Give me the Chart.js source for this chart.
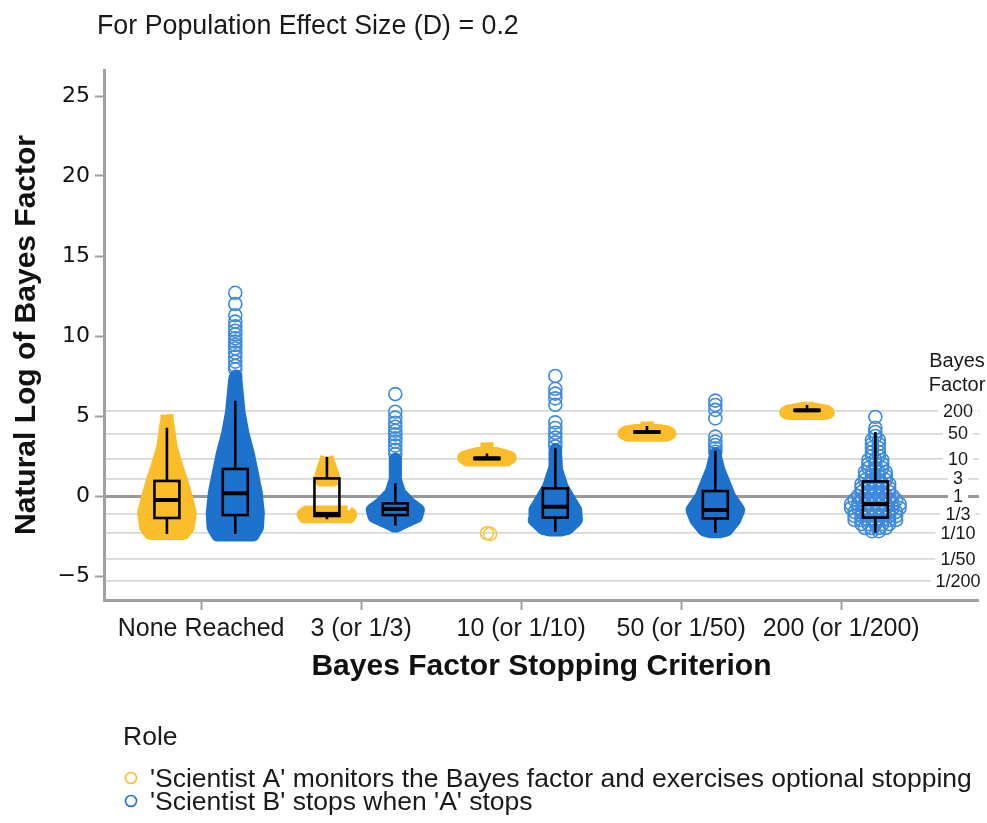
<!DOCTYPE html>
<html>
<head>
<meta charset="utf-8">
<script src="https://cdn.jsdelivr.net/npm/chart.js@4.4.1/dist/chart.umd.min.js"></script>
<style>
  html, body { margin: 0; padding: 0; background: #fff; }
  canvas { display: block; }
</style>
</head>
<body>
<canvas id="chart" width="987" height="823"></canvas>
<script>
const criteria = ["None Reached", "3 (or 1/3)", "10 (or 1/10)", "50 (or 1/50)", "200 (or 1/200)"];
const roles = ["'Scientist A' monitors the Bayes factor and exercises optional stopping", "'Scientist B' stops when 'A' stops"];
const yTicks = [25, 20, 15, 10, 5, 0, -5];
const bfLabels = ["200", "50", "10", "3", "1", "1/3", "1/10", "1/50", "1/200"];
const bfValues = [200, 50, 10, 3, 1, 1 / 3, 1 / 10, 1 / 50, 1 / 200];

// dense clouds: log BF level (top to bottom) and half width of the cloud, in category widths
// Scientist A
const aNoneY = [5.1, 4.55, 3.05, 1.8, 1.0, -0.05, -1.05, -1.95, -2.34];
const aNoneW = [0, 0.005, 0.026, 0.063, 0.09, 0.121, 0.146, 0.133, 0.105];
const aThreeY = [2.42, 2.25, 1.62, 1.25, 1.0];
const aThreeW = [0, 0.006, 0.027, 0.039, 0.04];
const aThreeLowY = [-1.0, -1.15, -1.3];
const aThreeLowW = [0.13, 0.149, 0.14];
const aTenY = [3.35, 2.8, 2.5, 2.4, 2.25];
const aTenW = [0, 0.003, 0.12, 0.146, 0.125];
const aFiftyY = [4.65, 4.2, 4.0, 3.9, 3.8];
const aFiftyW = [0, 0.005, 0.13, 0.144, 0.12];
const aTwoHY = [5.85, 5.5, 5.3, 5.22, 5.15];
const aTwoHW = [0, 0.005, 0.12, 0.133, 0.11];
// Scientist B
const bNoneY = [7.5, 7.25, 5.2, 3.9, 2.7, 1.45, 0.2, -1.05, -1.95, -2.44];
const bNoneW = [0, 0.004, 0.024, 0.048, 0.08, 0.106, 0.131, 0.144, 0.139, 0.111];
const bThreeY = [2.3, 1.0, 0.17, -0.46, -0.875, -1.29, -1.71, -1.88];
const bThreeW = [0, 0.001, 0.028, 0.089, 0.144, 0.133, 0.04, 0.006];
const bTenY = [2.9, 2.67, 1.625, 0.58, -0.25, -0.875, -1.5, -2.02, -2.13];
const bTenW = [0, 0.002, 0.008, 0.042, 0.089, 0.127, 0.132, 0.077, 0.03];
const bFiftyY = [2.65, 2.46, 1.625, 0.79, -0.04, -0.875, -1.5, -2.125, -2.24];
const bFiftyW = [0, 0.001, 0.022, 0.056, 0.089, 0.146, 0.121, 0.071, 0.03];

// single points outside the dense parts (log BF)
const aTenOut = [-2.33, -2.37];
const bNoneOut = [12.7, 12.0, 11.3, 10.9, 10.6, 10.33, 10.1, 9.86, 9.65, 9.44, 9.23, 8.96, 8.71, 8.4, 8.13, 7.92];
const bThreeOut = [6.37, 5.27, 4.9, 4.58, 4.33, 4.08, 3.85, 3.6, 3.4, 3.15, 2.88, 2.62];
const bTenOut = [7.5, 6.7, 6.4, 6.1, 5.7, 4.6, 4.25, 3.95, 3.65, 3.35, 3.1];
const bFiftyOut = [5.96, 5.69, 5.38, 4.85, 3.71, 3.4, 3.19, 2.98, 2.77];
const bTwoHOut = [4.94];
// the sparse 200 cloud of B: number of points per log BF row
const bTwoHRowY = [4.25, 4.0, 3.75, 3.5, 3.25, 3.0, 2.75, 2.5, 2.25, 2.0, 1.75, 1.5, 1.25, 1.0, 0.75, 0.5, 0.25, 0, -0.25, -0.5, -0.75, -1.0, -1.25, -1.5, -1.75, -2.0, -2.2];
const bTwoHRowN = [1, 1, 1, 2, 2, 2, 2, 2, 3, 3, 3, 4, 4, 4, 5, 5, 5, 6, 7, 8, 8, 7, 7, 7, 5, 4, 2];

// box plots per criterion: whisker low, q1, median, q3, whisker high
const aLow = [-2.375, -1.45, 2.28, 3.95, 5.3];
const aQ1 = [-1.375, -1.25, 2.31, 3.97, 5.33];
const aMed = [-0.25, -1.12, 2.35, 4.0, 5.35];
const aQ3 = [0.94, 1.1, 2.39, 4.03, 5.38];
const aHigh = [4.27, 2.45, 2.65, 4.38, 5.69];
const bLow = [-2.375, -1.85, -2.23, -2.29, -2.29];
const bQ1 = [-1.19, -1.19, -1.35, -1.4, -1.35];
const bMed = [0.17, -0.81, -0.67, -0.875, -0.5];
const bQ3 = [1.69, -0.46, 0.48, 0.31, 0.91];
const bHigh = [5.96, 0.79, 2.98, 2.83, 4.0];

const yellow = "#FCBD2B";
const blue = "#1C72CC";
const ringYellow = "#FDC23C";
const ringBlue = "#3D8BDD";
const roleOffset = 0.2136;   // A left of the category, B right
const boxHalf = 0.078;
const swarmStep = 0.0433;

function outline(ys, ws, xc) {
  const right = ys.map((y, k) => ({ x: xc + ws[k], y }));
  const left = ys.map((y, k) => ({ x: xc - ws[k], y })).reverse();
  const pts = right.concat(left);
  pts.push(pts[0]);
  return pts;
}

function column(vals, xc) {
  const placed = [];
  vals.forEach(v => {
    let k = 0, x = xc;
    const taken = o => placed.some(p => Math.abs(p.y - v) < 0.12 && Math.abs(p.x - o) < 0.01);
    while (taken(x)) {
      k++;
      x = xc + (k % 2 ? 1 : -1) * Math.ceil(k / 2) * 0.02;
    }
    placed.push({ x, y: v });
  });
  return placed;
}

function rows(rowY, rowN, xc) {
  const pts = [];
  rowY.forEach((y, k) => {
    for (let j = 0; j < rowN[k]; j++) pts.push({ x: xc + (j - (rowN[k] - 1) / 2) * swarmStep, y });
  });
  return pts;
}

function cloud(ys, ws, xc, color) {
  return {
    data: outline(ys, ws, xc),
    showLine: true,
    fill: "shape",
    backgroundColor: color,
    borderColor: color,
    borderWidth: 13,
    borderJoinStyle: "round",
    pointRadius: 0
  };
}

function ringSet(points, color) {
  return {
    data: points,
    showLine: false,
    pointRadius: 6.5,
    pointBorderWidth: 1.6,
    pointBorderColor: color,
    pointBackgroundColor: "rgba(255,255,255,0)"
  };
}

const xa = i => i - roleOffset;
const xb = i => i + roleOffset;

const datasets = [
  cloud(aNoneY, aNoneW, xa(0), yellow),
  cloud(bNoneY, bNoneW, xb(0), blue),
  cloud(aThreeY, aThreeW, xa(1), yellow),
  cloud(aThreeLowY, aThreeLowW, xa(1), yellow),
  cloud(bThreeY, bThreeW, xb(1), blue),
  cloud(aTenY, aTenW, xa(2), yellow),
  cloud(bTenY, bTenW, xb(2), blue),
  cloud(aFiftyY, aFiftyW, xa(3), yellow),
  cloud(bFiftyY, bFiftyW, xb(3), blue),
  cloud(aTwoHY, aTwoHW, xa(4), yellow),
  ringSet(column(aTenOut, xa(2)), ringYellow),
  ringSet(column(bNoneOut, xb(0)), ringBlue),
  ringSet(column(bThreeOut, xb(1)), ringBlue),
  ringSet(column(bTenOut, xb(2)), ringBlue),
  ringSet(column(bFiftyOut, xb(3)), ringBlue),
  ringSet(column(bTwoHOut, xb(4)), ringBlue),
  ringSet(rows(bTwoHRowY, bTwoHRowN, xb(4)), ringBlue)
];

// box plots drawn over the clouds
const boxPlugin = {
  id: "boxes",
  afterDatasetsDraw(chart) {
    const { ctx, scales: { x, y } } = chart;
    const sets = [
      [aLow, aQ1, aMed, aQ3, aHigh, xa],
      [bLow, bQ1, bMed, bQ3, bHigh, xb]
    ];
    ctx.save();
    ctx.strokeStyle = "#000";
    sets.forEach(([lo, q1, med, q3, hi, pos]) => {
      criteria.forEach((c, i) => {
        const xc = x.getPixelForValue(pos(i));
        const l = x.getPixelForValue(pos(i) - boxHalf);
        const r = x.getPixelForValue(pos(i) + boxHalf);
        const yq1 = y.getPixelForValue(q1[i]);
        const yq3 = y.getPixelForValue(q3[i]);
        ctx.lineWidth = 2.6;
        ctx.beginPath();
        ctx.moveTo(xc, y.getPixelForValue(hi[i]));
        ctx.lineTo(xc, yq3);
        ctx.moveTo(xc, yq1);
        ctx.lineTo(xc, y.getPixelForValue(lo[i]));
        ctx.stroke();
        ctx.strokeRect(l, yq3, r - l, yq1 - yq3);
        ctx.lineWidth = 4;
        ctx.beginPath();
        ctx.moveTo(l, y.getPixelForValue(med[i]));
        ctx.lineTo(r, y.getPixelForValue(med[i]));
        ctx.stroke();
      });
    });
    ctx.restore();
  }
};

// title, right hand Bayes factor labels and the legend
const textPlugin = {
  id: "texts",
  afterDraw(chart) {
    const { ctx } = chart;
    const y = chart.scales.y;
    ctx.save();
    ctx.fillStyle = "#1a1a1a";
    ctx.textBaseline = "alphabetic";
    ctx.textAlign = "left";
    ctx.font = "26.8px 'Liberation Sans', Arial, sans-serif";
    ctx.fillText("For Population Effect Size (D) = 0.2", 97, 34);

    ctx.textAlign = "center";
    ctx.font = "20px 'Liberation Sans', Arial, sans-serif";
    ctx.fillText("Bayes", 957, 367);
    ctx.fillText("Factor", 957, 391);

    ctx.font = "18px 'Liberation Sans', Arial, sans-serif";
    ctx.textBaseline = "middle";
    bfLabels.forEach((lab, k) => {
      const py = y.getPixelForValue(Math.log(bfValues[k]));
      const w = ctx.measureText(lab).width;
      ctx.fillStyle = "#fff";
      ctx.fillRect(958 - w / 2 - 5, py - 8, w + 10, 16);
      ctx.fillStyle = "#1a1a1a";
      ctx.fillText(lab, 958, py + 1);
    });

    ctx.textAlign = "left";
    ctx.textBaseline = "alphabetic";
    ctx.font = "26.5px 'Liberation Sans', Arial, sans-serif";
    ctx.fillText("Role", 123, 745);
    [yellow, blue].forEach((col, k) => {
      const base = 787 + k * 23;
      ctx.strokeStyle = col;
      ctx.lineWidth = 1.6;
      ctx.beginPath();
      ctx.arc(131, base - 9, 5.5, 0, Math.PI * 2);
      ctx.stroke();
      ctx.fillText(roles[k], 150, base);
    });
    ctx.restore();
  }
};

const yMin = -6.5, yMax = 26.625;

new Chart(document.getElementById("chart"), {
  type: "scatter",
  data: { datasets },
  options: {
    responsive: false,
    animation: false,
    events: [],
    layout: { padding: { top: 70, left: 0, right: 0, bottom: 0 } },
    plugins: { legend: { display: false }, tooltip: { enabled: false } },
    scales: {
      x: {
        type: "linear",
        min: -0.6068,
        max: 4.8607,
        afterBuildTicks: s => { s.ticks = criteria.map((c, i) => ({ value: i })); },
        afterFit: s => { s.height = 223; },
        ticks: {
          autoSkip: false,
          maxRotation: 0,
          padding: 4,
          color: "#1a1a1a",
          font: { family: "'Liberation Sans', Arial, sans-serif", size: 25 },
          callback: v => criteria[v]
        },
        grid: { drawOnChartArea: false, drawTicks: true, tickLength: 10, tickColor: "#a0a0a0", tickWidth: 2 },
        border: { display: true, color: "#a0a0a0", width: 3 },
        title: {
          display: true,
          text: "Bayes Factor Stopping Criterion",
          color: "#111",
          font: { family: "'Liberation Sans', Arial, sans-serif", size: 30, weight: "bold" },
          padding: { bottom: 138 }
        }
      },
      y: {
        type: "linear",
        position: "left",
        min: yMin,
        max: yMax,
        afterBuildTicks: s => { s.ticks = yTicks.map(v => ({ value: v })); },
        afterFit: s => { s.width = 104; },
        ticks: {
          padding: 5,
          color: "#111",
          font: { family: "'DejaVu Sans', sans-serif", size: 22 },
          callback: v => (v < 0 ? "\u2212" + Math.abs(v) : String(v))
        },
        grid: { drawOnChartArea: false, drawTicks: true, tickLength: 9, tickColor: "#a0a0a0", tickWidth: 2 },
        border: { display: true, color: "#a0a0a0", width: 3 },
        title: {
          display: true,
          text: "Natural Log of Bayes Factor",
          color: "#111",
          font: { family: "'Liberation Sans', Arial, sans-serif", size: 30, weight: "bold" },
          padding: { top: 9 }
        }
      },
      bf: {
        type: "linear",
        position: "right",
        min: yMin,
        max: yMax,
        afterBuildTicks: s => { s.ticks = bfValues.map(b => ({ value: Math.log(b) })); },
        afterFit: s => { s.width = 0; },
        ticks: { display: false },
        border: { display: false },
        grid: {
          drawTicks: false,
          color: c => (Math.abs(c.tick.value) < 1e-9 ? "#9a9a9a" : "#d8d8d8"),
          lineWidth: c => (Math.abs(c.tick.value) < 1e-9 ? 3 : 1.8)
        }
      }
    }
  },
  plugins: [boxPlugin, textPlugin]
});
</script>
</body>
</html>
